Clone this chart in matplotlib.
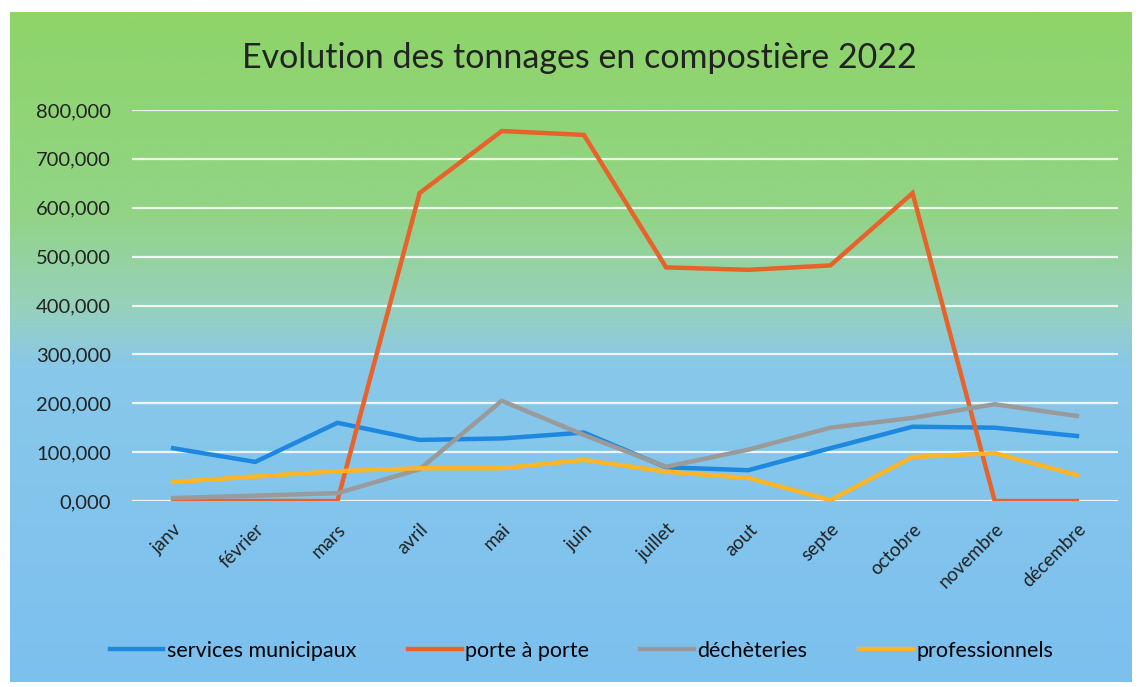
import matplotlib
matplotlib.use("Agg")
import matplotlib.pyplot as plt
import numpy as np
from matplotlib.colors import LinearSegmentedColormap

plt.rcParams['font.family'] = ['Lato', 'DejaVu Sans']

# data (tonnes)
months = ["janv", "février", "mars", "avril", "mai", "juin", "juillet",
          "aout", "septe", "octobre", "novembre", "décembre"]
services_municipaux = [108, 80, 160, 125, 128, 140, 69, 63, 108, 152, 150, 133]
porte_a_porte = [0, 0, 0, 630, 757, 749, 478, 473, 482, 630, 0, 0]
decheteries = [6, 11, 16, 65, 205, 135, 70, 105, 150, 170, 198, 174]
professionnels = [39, 50, 61, 67, 67, 84, 60, 47, 2, 90, 98, 53]

series_names = ["services municipaux", "porte à porte", "déchèteries", "professionnels"]
series_colors = ["#1e88e0", "#e8632b", "#9a9a9a", "#fbb526"]
yticks = [0, 100, 200, 300, 400, 500, 600, 700, 800]

fig = plt.figure(figsize=(11.4, 6.87), dpi=100)
fig.patch.set_facecolor("white")

# gradient background panel (green -> blue)
bg = fig.add_axes([10 / 1140, 1 - 682 / 687, 1122 / 1140, 670 / 687])
grad_cmap = LinearSegmentedColormap.from_list("bg", [
    (0.0, "#8ed468"),
    (0.30, "#92d486"),
    (0.44, "#97d1bc"),
    (0.53, "#88c8ea"),
    (1.0, "#7cc0ef"),
])
bg.imshow(np.linspace(0, 1, 256).reshape(-1, 1), aspect="auto", cmap=grad_cmap,
          extent=[0, 1, 0, 1], origin="upper")
bg.axis("off")

ax = fig.add_axes([132 / 1140, 1 - 501 / 687, 986 / 1140, 391 / 687])
ax.patch.set_alpha(0)

x = np.arange(len(months))
all_series = [services_municipaux, porte_a_porte, decheteries, professionnels]
for vals, name, col in zip(all_series, series_names, series_colors):
    ax.plot(x, vals, color=col, lw=3.2, label=name, solid_joinstyle="miter")

ax.set_xlim(-0.5, len(months) - 0.5)
ax.set_ylim(0, 800)
ax.set_yticks(yticks)
ax.set_yticklabels([f"{v:.3f}".replace(".", ",") for v in yticks],
                   fontsize=14.5, color="#222222")
ax.set_xticks(x)
ax.set_xticklabels(months, rotation=45, ha="right", va="top",
                   rotation_mode="anchor", fontsize=13.5, color="#222222")
ax.tick_params(axis="both", length=0)
ax.tick_params(axis="y", pad=15)
ax.tick_params(axis="x", pad=14)
ax.grid(axis="y", color="white", lw=1.6, alpha=0.85)
ax.set_axisbelow(True)
for s in ax.spines.values():
    s.set_visible(False)

fig.text(0.508, 0.915, "Evolution des tonnages en compostière 2022",
         ha="center", va="center", fontsize=24.5, color="#222222")

fig.legend(loc="center", bbox_to_anchor=(0.51, 1 - 651 / 687), ncol=4,
           frameon=False, fontsize=15.5, handlelength=2.5, columnspacing=2.4,
           handletextpad=0.15)

fig.savefig("out.png", dpi=100)
